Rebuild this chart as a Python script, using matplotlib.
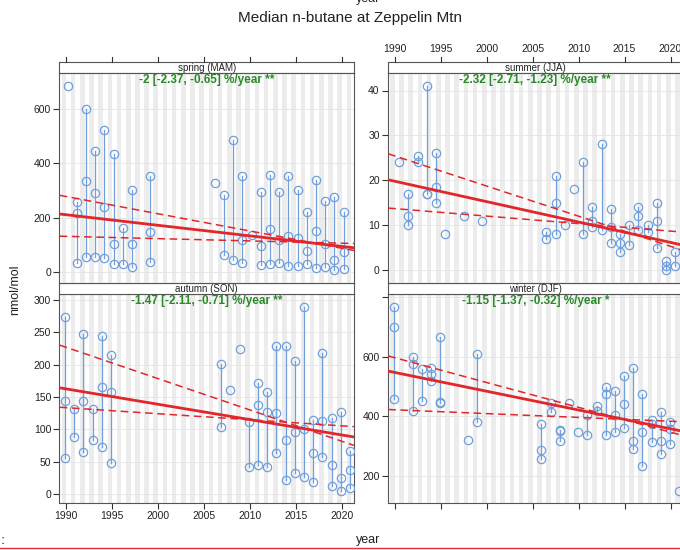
import numpy as np
import matplotlib.pyplot as plt
from matplotlib.lines import Line2D

plt.rcParams['font.family'] = ['Liberation Sans', 'DejaVu Sans']

# monthly medians, grouped by year for each season (nmol/mol)
spring_years = [1990, 1991, 1992, 1993, 1994, 1995, 1996, 1997, 1999, 2006, 2007, 2008,
                2009, 2010, 2011, 2012, 2013, 2014, 2015, 2016, 2017, 2018, 2019, 2020]
spring_vals = [[686], [256, 218, 31], [600, 336, 55], [447, 292, 54], [525, 240, 51],
               [435, 101, 27], [163, 27], [301, 103, 18], [355, 147, 37], [326], [285, 63],
               [485, 43], [355, 116, 32], [135], [293, 95, 23], [358, 159, 28], [296, 116, 31],
               [352, 132, 21], [303, 124, 21], [222, 76, 30], [338, 150, 15], [260, 101, 17],
               [277, 44, 6], [222, 73, 10]]

summer_years = [1990, 1991, 1992, 1993, 1994, 1995, 1997, 1999, 2006, 2007, 2008, 2009,
                2010, 2011, 2012, 2013, 2014, 2015, 2016, 2017, 2018, 2019, 2020]
summer_vals = [[24], [17, 12, 10], [25.5, 24], [41, 17, 17], [26, 18.5, 15], [8], [12], [11],
               [8.5, 7], [21, 15, 8], [10], [18], [24, 8], [14, 11, 9.5], [28, 9],
               [13.5, 9.5, 6], [8, 6, 4], [10, 5.5], [14, 12, 9], [10, 8.5], [15, 11, 5],
               [2, 1, 0], [4, 1]]

autumn_years = [1989, 1990, 1991, 1992, 1993, 1994, 2006, 2007, 2008, 2009, 2010, 2011,
                2012, 2013, 2014, 2015, 2016, 2017, 2018, 2019, 2020]
autumn_vals = [[274, 144, 56], [131, 88], [247, 143, 65], [132, 84], [244, 166, 72],
               [215, 157, 48], [201, 103], [160], [224], [111, 41], [171, 138, 45],
               [157, 126, 41], [229, 125, 64], [229, 83, 21], [206, 95, 32], [289, 100, 26],
               [115, 64, 19], [218, 113, 57], [117, 45, 12], [126, 25, 5], [66, 37, 9]]

winter_years = [1990, 1992, 1993, 1994, 1995, 1998, 1999, 2006, 2007, 2008, 2009, 2010,
                2011, 2012, 2013, 2014, 2015, 2016, 2017, 2018, 2019, 2020, 2021]
winter_vals = [[765, 700, 458], [597, 575, 417], [557, 450], [562, 540, 518], [667, 448, 443],
               [320], [608, 381], [375, 286, 257], [445, 415], [353, 350, 316], [445], [347],
               [403, 338], [434, 417], [496, 473, 338], [484, 403, 347], [534, 440, 359],
               [560, 316, 291], [473, 347, 233], [387, 372, 314], [415, 316, 272],
               [381, 356, 307], [148]]

# Theil-Sen trend and 95% interval, values at the two ends of the x range
trend_x = [1989.3, 2021.3]
spring_trend = [[213, 88], [282, 78], [131, 104]]
summer_trend = [[20.1, 5.55], [25.9, 4.4], [13.8, 8.45]]
autumn_trend = [[164, 88], [230, 75], [134, 104]]
winter_trend = [[551, 349], [602, 335], [422, 381]]

labels = ['-2 [-2.37, -0.65] %/year **', '-2.32 [-2.71, -1.23] %/year **',
          '-1.47 [-2.11, -0.71] %/year **', '-1.15 [-1.37, -0.32] %/year *']
strips = ['spring (MAM)', 'summer (JJA)', 'autumn (SON)', 'winter (DJF)']

W, H = 680, 550
fig = plt.figure(figsize=(W / 100, H / 100), dpi=100)

blue = '#6f9fdc'
red = '#e3262a'
green = '#2a8a2a'
frame = '#555555'


def px_axes(x0, y0, x1, y1):
    return fig.add_axes([x0 / W, 1 - y1 / H, (x1 - x0) / W, (y1 - y0) / H])


def panel(box, years, vals, offset, trend, ylim, yticks, ylabels, strip, label,
          xtop=False, xbottom=False, xlabels=False):
    x0, y0, x1, y1 = box
    ax = px_axes(x0, y0, x1, y1)
    ax.set_xlim(1989.28, 2021.3)
    ax.set_ylim(*ylim)
    for yr in range(1988, 2023):
        ax.axvspan(yr + 0.5, yr + 1.0, color='#ececec', lw=0, zorder=0)
    for t in yticks:
        ax.axhline(t, color='#e4e4e4', lw=0.6, zorder=0.5)
    for yr, v in zip(years, vals):
        xs = [yr + offset] * len(v)
        ax.plot(xs, v, color=blue, lw=0.9, zorder=2)
        ax.plot(xs, v, 'o', mfc='none', mec=blue, ms=6, mew=0.9, zorder=3)
    ax.plot(trend_x, trend[0], color=red, lw=2, zorder=4)
    for t in trend[1:]:
        ax.plot(trend_x, t, color=red, lw=1.1, dashes=(5, 3), zorder=4)
    ax.text(0.5, 1 - 7 / (y1 - y0), label, transform=ax.transAxes, ha='center',
            va='center', color=green, fontweight='bold', fontsize=8.5)
    ax.set_yticks(yticks)
    ax.set_yticklabels(ylabels)
    ax.set_xticks([1990, 1995, 2000, 2005, 2010, 2015, 2020])
    ax.tick_params(axis='both', direction='out', length=4, width=0.8, color='#333333',
                   labelsize=7.5, labelcolor='#222222', pad=2)
    ax.tick_params(axis='x', top=xtop, bottom=xbottom, labeltop=xtop and xlabels,
                   labelbottom=xbottom and xlabels)
    for s in ax.spines.values():
        s.set_color(frame)
        s.set_linewidth(0.8)
    # strip
    sax = px_axes(x0, y0 - 11, x1, y0)
    sax.set_xticks([])
    sax.set_yticks([])
    sax.set_facecolor('white')
    for s in sax.spines.values():
        s.set_color(frame)
        s.set_linewidth(0.8)
    sax.text(0.5, 0.45, strip, ha='center', va='center', fontsize=7, color='#222222',
             transform=sax.transAxes)
    if xtop:
        ax.set_zorder(sax.get_zorder() + 1)
        ax.patch.set_alpha(0)
    return ax


LX0, LX1 = 59.5, 354
RX0, RX1 = 388, 682.5
TY0, TY1 = 73, 283
BY0, BY1 = 294, 503

a1 = panel((LX0, TY0, LX1, TY1), spring_years, spring_vals, 0.17, spring_trend,
           (-42, 734), [0, 200, 400, 600], ['0', '200', '400', '600'], strips[0], labels[0],
           xtop=True)
a2 = panel((RX0, TY0, RX1, TY1), summer_years, summer_vals, 0.5, summer_trend,
           (-2.9, 43.9), [0, 10, 20, 30, 40], ['0', '10', '20', '30', '40'], strips[1],
           labels[1], xtop=True, xlabels=True)
a3 = panel((LX0, BY0, LX1, BY1), autumn_years, autumn_vals, 0.87, autumn_trend,
           (-14, 309), [0, 50, 100, 150, 200, 250, 300],
           ['0', '50', '100', '150', '200', '250', '300'], strips[2], labels[2],
           xbottom=True, xlabels=True)
a4 = panel((RX0, BY0, RX1, BY1), winter_years, winter_vals, -0.05, winter_trend,
           (108, 810), [200, 400, 600, 800], ['200', '400', '600', ''], strips[3], labels[3],
           xbottom=True)

# top-axis ticks for the upper panels sit above the strip
for ax in (a1, a2):
    ax.tick_params(axis='x', which='both', pad=14)
    ax.xaxis.set_tick_params(length=0)
    for yr in [1990, 1995, 2000, 2005, 2010, 2015, 2020]:
        xf = ax.transData.transform((yr, 0))[0]
        xf = fig.transFigure.inverted().transform((xf, 0))[0]
        fig.add_artist(Line2D([xf, xf], [1 - 62 / H, 1 - 57 / H], color='#333333', lw=0.8))

fig.text(0.515, 1 - 18 / H, 'Median n-butane at Zeppelin Mtn', ha='center', va='center',
         fontsize=11, color='#222222')
fig.text(368 / W, 1 + 1 / H, 'year', ha='center', va='center', fontsize=9, color='#222222')
fig.text(368 / W, 1 - 540 / H, 'year', ha='center', va='center', fontsize=9, color='#222222')
fig.text(15 / W, 1 - 290 / H, 'nmol/mol', ha='center', va='center', rotation=90,
         fontsize=9, color='#222222')
fig.add_artist(Line2D([0, 1], [1 - 548 / H, 1 - 548 / H], color='#e03030', lw=1))
fig.text(3 / W, 1 - 541 / H, ':', ha='center', va='center', fontsize=9, color='#e03030',
         fontweight='bold')

fig.savefig('out.png', dpi=100)
